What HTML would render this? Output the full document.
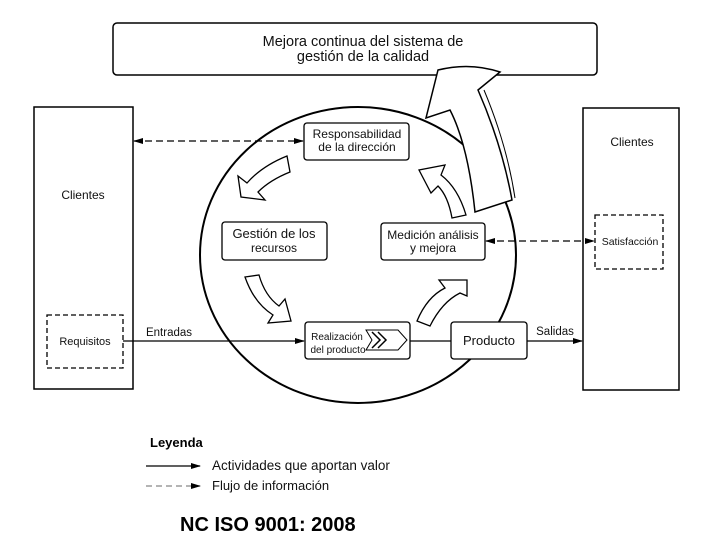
<!DOCTYPE html>
<html><head><meta charset="utf-8"><style>
body{margin:0;background:#fff;}
svg{display:block;font-family:"Liberation Sans",Arial,sans-serif;}
</style></head><body>
<svg width="720" height="540" viewBox="0 0 720 540">
<defs>
<marker id="a" markerWidth="10" markerHeight="8" refX="9" refY="4" orient="auto" markerUnits="userSpaceOnUse"><path d="M0,1 L10,4 L0,7 Z" fill="#000"/></marker>
<marker id="b" markerWidth="10" markerHeight="8" refX="1" refY="4" orient="auto" markerUnits="userSpaceOnUse"><path d="M10,1 L0,4 L10,7 Z" fill="#000"/></marker>
</defs>
<g fill="none" stroke="#000">
<rect x="113" y="23" width="484" height="52" rx="4" stroke-width="1.5"/>
<rect x="34" y="107" width="99" height="282" stroke-width="1.5"/>
<rect x="583" y="108" width="96" height="282" stroke-width="1.5"/>
<rect x="47" y="315" width="76" height="53" stroke-dasharray="5,3" stroke-width="1.3"/>
<rect x="595" y="215" width="68" height="54" stroke-dasharray="5,3" stroke-width="1.3"/>
<ellipse cx="358" cy="255" rx="158" ry="148" stroke-width="2"/>
</g>
<!-- big arrow -->
<path d="M438,70 Q470,62 500,72 L478,90 Q502,145 512,200 L475,212 Q468,145 450,110 L426,118 Z" fill="#fff" stroke="#000" stroke-width="1.5"/>
<path d="M484,90 Q507,145 515,198" fill="none" stroke="#000" stroke-width="1"/>
<!-- small curved arrows -->
<g fill="#fff" stroke="#000" stroke-width="1.3">
<path d="M287,156 L290,172 Q270,180 258,192 L265,200 L241,197 L238,176 L247,183 Q262,166 287,156 Z"/>
<path d="M245,277 L259,275 Q265,296 279,306 L285,299 L291,321 L268,323 L273,315 Q254,303 245,277 Z"/>
<path d="M430,326 L417,321 Q427,297 445,288 L439,280 L467,280 L467,296 L460,293 Q442,302 430,326 Z"/>
<path d="M466,215 L452,218 Q448,196 438,186 L431,193 L419,170 L445,165 L441,175 Q458,188 466,215 Z"/>
</g>
<g fill="#fff" stroke="#000" stroke-width="1.3">
<rect x="304" y="123" width="105" height="37" rx="3"/>
<rect x="222" y="222" width="105" height="38" rx="3"/>
<rect x="381" y="223" width="104" height="37" rx="3"/>
<rect x="305" y="322" width="105" height="37" rx="3"/>
<rect x="451" y="322" width="76" height="37" rx="3"/>
</g>
<path d="M366,330 L398,330 L407,340 L398,350 L366,350 L372,340 Z" fill="#fff" stroke="#000"/>
<path d="M372,332 L380,340 L372,348 M378,332 L386,340 L378,348" fill="none" stroke="#000" stroke-width="1.5"/>
<!-- connectors -->
<g stroke="#000" stroke-width="1.3" fill="none">
<line x1="134" y1="141" x2="303" y2="141" stroke-dasharray="7,4" marker-start="url(#b)" marker-end="url(#a)"/>
<line x1="486" y1="241" x2="594" y2="241" stroke-dasharray="7,4" marker-start="url(#b)" marker-end="url(#a)"/>
<line x1="123" y1="341" x2="304" y2="341" marker-end="url(#a)"/>
<line x1="410" y1="341" x2="451" y2="341"/>
<line x1="527" y1="341" x2="582" y2="341" marker-end="url(#a)"/>
<line x1="146" y1="466" x2="200" y2="466" marker-end="url(#a)"/>
<line x1="146" y1="486" x2="200" y2="486" stroke-dasharray="6,4" stroke="#888" marker-end="url(#a)"/>
</g>
<g font-size="12" fill="#111" text-anchor="middle">
<text x="363" y="46" font-size="14.5">Mejora continua del sistema de</text>
<text x="363" y="61" font-size="14.5">gestión de la calidad</text>
<text x="83" y="199">Clientes</text>
<text x="632" y="146">Clientes</text>
<text x="85" y="345" font-size="11">Requisitos</text>
<text x="630" y="245" font-size="10.5">Satisfacción</text>
<text x="357" y="138" font-size="12">Responsabilidad</text>
<text x="357" y="151" font-size="12">de la dirección</text>
<text x="274" y="238" font-size="13">Gestión de los</text>
<text x="274" y="252" font-size="12">recursos</text>
<text x="433" y="239" font-size="12">Medición análisis</text>
<text x="433" y="252" font-size="12">y mejora</text>
<text x="337" y="340" font-size="10">Realización</text>
<text x="338" y="353" font-size="10">del producto</text>
<text x="489" y="345" font-size="13">Producto</text>
<text x="169" y="336" font-size="11.5">Entradas</text>
<text x="555" y="335" font-size="11.5">Salidas</text>
</g>
<text x="150" y="447" font-size="13" font-weight="bold" fill="#000">Leyenda</text>
<text x="212" y="470" font-size="13.5" fill="#111">Actividades que aportan valor</text>
<text x="212" y="490" font-size="13" fill="#111">Flujo de información</text>
<text x="180" y="531" font-size="20" font-weight="bold" fill="#000">NC ISO 9001: 2008</text>
</svg>
</body></html>
